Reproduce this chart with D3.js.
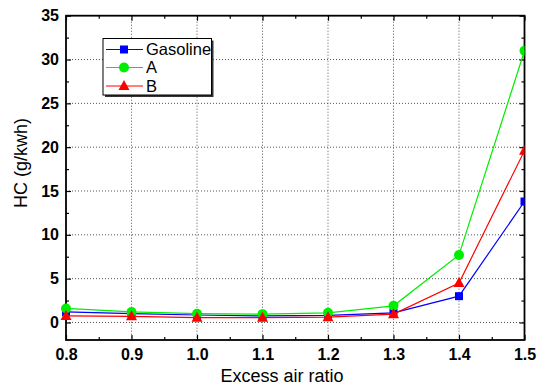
<!DOCTYPE html>
<html><head><meta charset="utf-8">
<script src="https://cdn.jsdelivr.net/npm/d3@7"></script>
<style>body{margin:0;background:#fff}svg{display:block}</style>
</head><body>
<svg id="c" width="548" height="391"></svg>
<script>
const xValues = [0.8, 0.9, 1.0, 1.1, 1.2, 1.3, 1.4, 1.5];
const gasoline = [1.2, 1.0, 0.85, 0.75, 0.8, 1.1, 3.0, 13.8];
const seriesA = [1.6, 1.2, 1.0, 0.95, 1.1, 1.9, 7.7, 31.0];
const seriesB = [0.75, 0.7, 0.55, 0.55, 0.6, 0.95, 4.5, 19.6];
const xTicks = [0.8, 0.9, 1.0, 1.1, 1.2, 1.3, 1.4, 1.5];
const yTicks = [0, 5, 10, 15, 20, 25, 30, 35];
const seriesNames = ["Gasoline", "A", "B"];

const series = [
  {name: seriesNames[0], values: gasoline, color: "#0000ff", shape: "square"},
  {name: seriesNames[1], values: seriesA, color: "#00ee00", shape: "circle"},
  {name: seriesNames[2], values: seriesB, color: "#ff0000", shape: "triangle"}
];

const svg = d3.select("#c");
const L = 66, R = 524.5, T = 15.7, B = 340;
const x = d3.scaleLinear().domain([0.8, 1.5]).range([L, R]);
const y = d3.scaleLinear().domain([-2, 35]).range([B, T]);

// grid
const g = svg.append("g");
g.selectAll(".vg").data(xTicks.slice(1, -1)).join("line")
  .attr("x1", d => x(d)).attr("x2", d => x(d)).attr("y1", T).attr("y2", B)
  .attr("stroke", "#555").attr("stroke-width", 1).attr("stroke-dasharray", "1,2");
g.selectAll(".hg").data(yTicks.slice(0, -1)).join("line")
  .attr("x1", L).attr("x2", R).attr("y1", d => y(d)).attr("y2", d => y(d))
  .attr("stroke", "#555").attr("stroke-width", 1).attr("stroke-dasharray", "1,2");

// axes
const xMinor = d3.range(0.85, 1.5, 0.1);
const yMinor = d3.range(2.5, 35, 5);
const tickFont = "bold 16px 'Liberation Sans', Arial, sans-serif";

const xb = svg.append("g").attr("transform", `translate(0,${B})`)
  .call(d3.axisBottom(x).tickValues(xTicks).tickFormat(d3.format(".1f")).tickSizeInner(-5).tickSizeOuter(0).tickPadding(9));
xb.select(".domain").remove();
xb.selectAll("text").style("font", tickFont).attr("fill", "#000");
svg.append("g").attr("transform", `translate(0,${B})`)
  .call(d3.axisBottom(x).tickValues(xMinor).tickFormat("").tickSizeInner(-3).tickSizeOuter(0))
  .select(".domain").remove();

const xt = svg.append("g").attr("transform", `translate(0,${T})`)
  .call(d3.axisTop(x).tickValues(xTicks).tickFormat("").tickSizeInner(-5).tickSizeOuter(0));
xt.select(".domain").remove();
svg.append("g").attr("transform", `translate(0,${T})`)
  .call(d3.axisTop(x).tickValues(xMinor).tickFormat("").tickSizeInner(-3).tickSizeOuter(0))
  .select(".domain").remove();

const yl = svg.append("g").attr("transform", `translate(${L},0)`)
  .call(d3.axisLeft(y).tickValues(yTicks).tickSizeInner(-5).tickSizeOuter(0).tickPadding(7));
yl.select(".domain").remove();
yl.selectAll("text").style("font", tickFont).attr("fill", "#000");
svg.append("g").attr("transform", `translate(${L},0)`)
  .call(d3.axisLeft(y).tickValues(yMinor).tickFormat("").tickSizeInner(-3).tickSizeOuter(0))
  .select(".domain").remove();

svg.append("g").attr("transform", `translate(${R},0)`)
  .call(d3.axisRight(y).tickValues(yTicks).tickFormat("").tickSizeInner(-5).tickSizeOuter(0))
  .select(".domain").remove();
svg.append("g").attr("transform", `translate(${R},0)`)
  .call(d3.axisRight(y).tickValues(yMinor).tickFormat("").tickSizeInner(-3).tickSizeOuter(0))
  .select(".domain").remove();

svg.selectAll(".tick line").attr("stroke", "#000").attr("stroke-width", 1.2);

svg.append("rect").attr("x", L).attr("y", T).attr("width", R - L).attr("height", B - T)
  .attr("fill", "none").attr("stroke", "#000").attr("stroke-width", 1.8);

// lines
const line = d3.line().x((d, i) => x(xValues[i])).y(d => y(d));
function marker(sel, shape, color) {
  if (shape === "square") {
    sel.append("rect").attr("x", -4).attr("y", -4).attr("width", 8).attr("height", 8).attr("fill", color);
  } else if (shape === "circle") {
    sel.append("circle").attr("r", 5).attr("fill", color);
  } else {
    sel.append("path").attr("d", "M0,-6L5.5,4L-5.5,4Z").attr("fill", color);
  }
}
svg.append("clipPath").attr("id", "clp").append("rect")
  .attr("x", L - 6).attr("y", T - 6).attr("width", R - L + 6).attr("height", B - T + 6);
series.forEach(s => {
  const gs = svg.append("g").attr("clip-path", "url(#clp)");
  gs.append("path").attr("d", line(s.values)).attr("fill", "none").attr("stroke", s.color).attr("stroke-width", 1.2);
  s.values.forEach((v, i) => {
    const m = gs.append("g").attr("transform", `translate(${x(xValues[i])},${y(v)})`);
    marker(m, s.shape, s.color);
  });
});

// legend
const lg = svg.append("g");
lg.append("rect").attr("x", 105).attr("y", 40.5).attr("width", 108.5).attr("height", 56.5).attr("fill", "#333");
lg.append("rect").attr("x", 103).attr("y", 38.5).attr("width", 108.5).attr("height", 56.5).attr("fill", "#fff").attr("stroke", "#000").attr("stroke-width", 1);
const ly = [49.5, 67.5, 86];
series.forEach((s, i) => {
  lg.append("line").attr("x1", 106).attr("x2", 143).attr("y1", ly[i]).attr("y2", ly[i]).attr("stroke", s.color).attr("stroke-width", 1.2);
  const m = lg.append("g").attr("transform", `translate(124,${ly[i]})`);
  marker(m, s.shape, s.color);
  lg.append("text").attr("x", 146).attr("y", ly[i]).attr("dy", "0.36em")
    .style("font", "16.5px 'Liberation Sans', Arial, sans-serif").text(s.name);
});

// titles
svg.append("text").attr("x", 282).attr("y", 382).attr("text-anchor", "middle")
  .style("font", "18px 'Liberation Sans', Arial, sans-serif").text("Excess air ratio");
svg.append("text").attr("transform", "translate(27,163) rotate(-90)").attr("text-anchor", "middle")
  .style("font", "18px 'Liberation Sans', Arial, sans-serif").text("HC (g/kwh)");
</script>
</body></html>
